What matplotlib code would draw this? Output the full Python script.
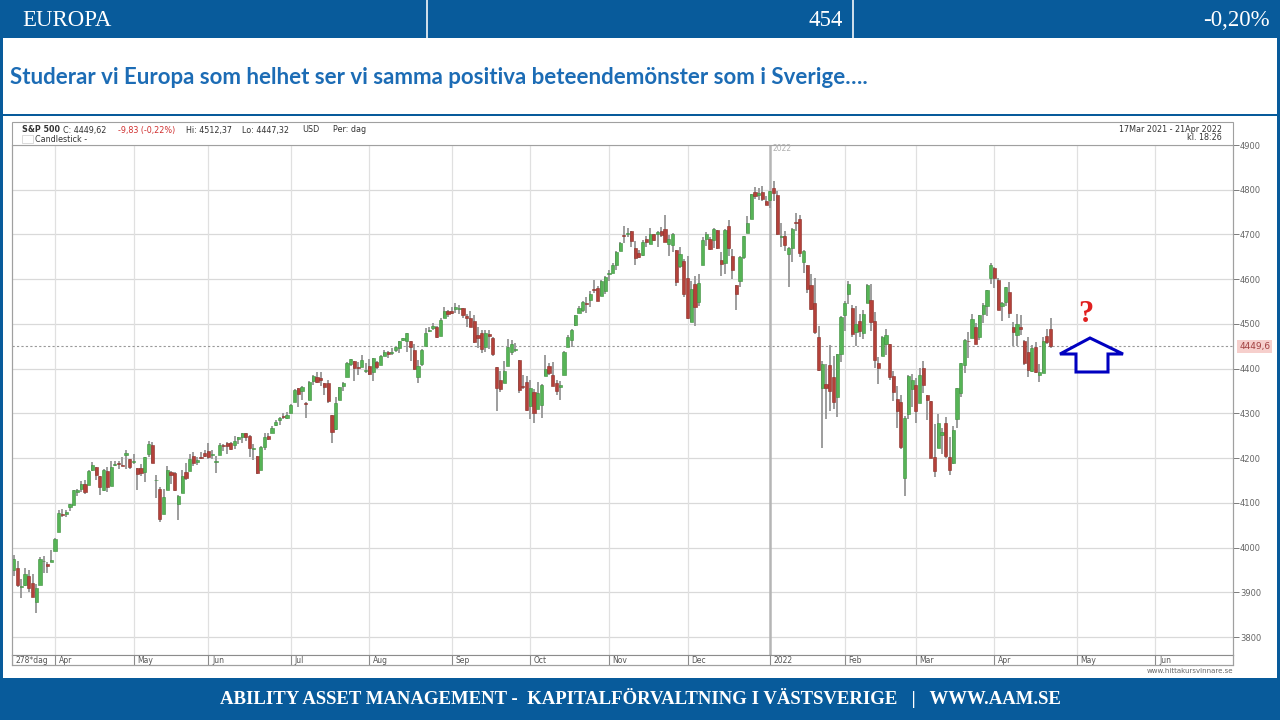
import numpy as np
import matplotlib
matplotlib.use("Agg")
import matplotlib.pyplot as plt
from matplotlib.patches import Rectangle, Polygon

# ---------------------------------------------------------------- data
# S&P 500 daily candles, 17 Mar 2021 - 21 Apr 2022 (278 trading days)
opens = [
    # Mar 2021
    3949.6, 3953.5, 3913.1, 3916.5, 3937.6, 3919.9, 3879.3, 3917.1, 3969.3, 3963.3, 3967.3,
    # Apr 2021
    3992.8, 4034.4, 4075.6, 4074.3, 4090.0, 4096.1, 4124.7, 4130.1, 4141.6, 4139.8, 4174.1,
    4179.8, 4159.2, 4128.4, 4170.5, 4138.8, 4185.0, 4188.3, 4185.1, 4206.1, 4198.1,
    # May 2021
    4192.0, 4179.0, 4177.1, 4169.1, 4210.3, 4228.3, 4150.3, 4130.6, 4075.0, 4129.6,
    4169.9, 4165.9, 4098.5, 4122.0, 4168.6, 4170.2, 4205.9, 4191.6, 4201.9, 4210.8,
    # Jun 2021
    4216.5, 4206.8, 4191.4, 4206.1, 4229.3, 4233.8, 4233.0, 4228.6, 4242.9, 4248.3, 4255.3,
    4248.9, 4220.4, 4204.8, 4173.4, 4224.6, 4249.3, 4257.0, 4274.5, 4284.9, 4293.2, 4290.7,
    # Jul 2021
    4300.7, 4326.6, 4356.5, 4351.0, 4321.1, 4329.4, 4372.4, 4381.1, 4380.1, 4369.0, 4367.4,
    4296.4, 4265.1, 4331.1, 4361.3, 4381.2, 4409.6, 4416.4, 4403.0, 4403.6, 4395.1,
    # Aug 2021
    4406.9, 4392.7, 4416.0, 4408.9, 4429.1, 4437.8, 4435.8, 4442.2, 4446.1, 4464.8, 4461.7,
    4462.1, 4440.9, 4382.4, 4410.6, 4450.3, 4484.4, 4490.5, 4493.8, 4474.1, 4513.8, 4529.8,
    # Sep 2021
    4528.8, 4534.5, 4532.4, 4535.4, 4518.1, 4513.0, 4506.9, 4474.8, 4479.3, 4447.5, 4477.1,
    4469.7, 4403.0, 4374.5, 4367.4, 4406.8, 4438.0, 4442.1, 4419.5, 4362.4, 4370.7,
    # Oct 2021
    4317.2, 4348.8, 4309.9, 4319.6, 4383.7, 4406.5, 4385.4, 4368.3, 4358.0, 4386.8, 4447.7,
    4463.7, 4497.3, 4524.4, 4532.2, 4546.1, 4553.7, 4578.7, 4580.2, 4562.8, 4572.9,
    # Nov 2021
    4610.6, 4613.3, 4630.7, 4662.9, 4699.3, 4701.5, 4707.3, 4670.3, 4659.4, 4655.2, 4689.3,
    4679.4, 4701.5, 4700.7, 4708.4, 4712.0, 4678.5, 4675.8, 4664.6, 4628.8, 4640.3,
    # Dec 2021
    4602.8, 4504.7, 4589.5, 4548.4, 4632.0, 4690.9, 4691.0, 4687.6, 4710.3, 4643.0, 4636.5,
    4719.1, 4652.5, 4587.9, 4595.0, 4650.4, 4704.0, 4734.0, 4795.5, 4788.6, 4794.2, 4775.2,
    # Jan 2022
    4778.1, 4804.5, 4788.0, 4693.4, 4697.7, 4655.3, 4669.1, 4728.6, 4733.6, 4638.0,
    4632.2, 4588.0, 4547.4, 4471.4, 4356.3, 4366.6, 4408.4, 4380.6, 4336.2, 4431.8,
    # Feb 2022
    4519.6, 4566.4, 4535.4, 4482.8, 4505.8, 4480.0, 4547.0, 4553.2, 4506.3, 4412.6,
    4429.3, 4455.8, 4456.1, 4384.6, 4332.7, 4324.9, 4155.8, 4298.4, 4354.2,
    # Mar 2022
    4363.1, 4322.6, 4401.3, 4342.1, 4327.0, 4202.7, 4223.1, 4252.6, 4279.5, 4202.8, 4188.8,
    4288.1, 4345.1, 4407.3, 4462.4, 4469.1, 4493.1, 4470.0, 4522.9, 4541.1, 4602.9, 4624.2,
    4599.0,
    # Apr 2022
    4540.3, 4548.0, 4572.5, 4494.2, 4474.7, 4494.2, 4462.6, 4437.6, 4394.3, 4449.1,
    4385.6, 4390.6, 4472.3, 4489.2,
]
highs = [
    3983.9, 3969.6, 3930.1, 3955.3, 3949.1, 3942.1, 3919.5, 3978.2, 3981.8, 3968.0, 3994.4,
    4020.6, 4083.4, 4086.2, 4083.1, 4098.2, 4129.5, 4131.8, 4148.0, 4151.7, 4173.5, 4191.3,
    4180.8, 4159.2, 4175.0, 4179.6, 4194.2, 4194.2, 4193.4, 4201.5, 4218.8, 4198.1,
    4209.4, 4179.0, 4187.7, 4202.7, 4238.0, 4236.4, 4162.0, 4134.7, 4131.6, 4183.1,
    4171.9, 4169.2, 4116.9, 4172.8, 4188.7, 4209.5, 4213.4, 4202.6, 4213.4, 4218.4,
    4234.1, 4217.4, 4204.4, 4233.5, 4232.3, 4236.7, 4237.1, 4249.7, 4248.4, 4255.6, 4257.2,
    4251.9, 4232.3, 4204.8, 4226.2, 4255.8, 4256.6, 4271.3, 4286.1, 4292.1, 4300.5, 4302.4,
    4320.7, 4355.4, 4356.5, 4361.9, 4324.8, 4372.9, 4386.7, 4392.4, 4393.7, 4369.0, 4375.1,
    4296.4, 4336.8, 4359.7, 4369.9, 4415.2, 4422.7, 4416.4, 4415.5, 4430.0, 4412.3,
    4422.2, 4423.8, 4416.2, 4429.8, 4440.8, 4439.4, 4445.2, 4449.4, 4461.8, 4468.4, 4480.3,
    4462.1, 4454.3, 4418.6, 4444.4, 4489.9, 4492.8, 4501.7, 4495.9, 4513.3, 4537.4, 4531.4,
    4537.1, 4545.9, 4541.5, 4535.4, 4521.8, 4529.9, 4520.5, 4493.0, 4485.7, 4486.9, 4485.9,
    4471.5, 4403.0, 4394.9, 4416.8, 4465.4, 4463.1, 4457.3, 4419.5, 4385.6, 4382.6,
    4375.2, 4355.5, 4369.2, 4365.6, 4430.0, 4412.0, 4415.9, 4374.9, 4372.9, 4439.7, 4475.8,
    4488.8, 4520.4, 4540.9, 4551.4, 4559.7, 4572.6, 4598.5, 4584.6, 4597.6, 4608.1,
    4620.3, 4635.2, 4663.5, 4683.0, 4718.5, 4714.9, 4708.5, 4684.9, 4664.6, 4688.5, 4697.4,
    4715.0, 4701.5, 4708.8, 4717.8, 4743.8, 4699.4, 4702.9, 4664.6, 4673.0, 4646.0,
    4652.9, 4595.5, 4608.0, 4612.6, 4694.0, 4705.1, 4695.3, 4713.6, 4710.3, 4660.5, 4712.6,
    4732.0, 4666.7, 4587.9, 4651.1, 4697.7, 4740.7, 4791.5, 4807.0, 4804.1, 4808.9, 4786.8,
    4796.6, 4818.6, 4797.7, 4725.0, 4708.0, 4673.0, 4714.1, 4748.8, 4744.1, 4665.1,
    4632.2, 4611.6, 4602.1, 4494.5, 4417.4, 4411.0, 4453.2, 4428.7, 4432.7, 4516.9,
    4550.5, 4595.3, 4542.9, 4539.7, 4521.9, 4531.3, 4590.0, 4588.9, 4526.3, 4426.2,
    4472.8, 4489.6, 4456.1, 4394.6, 4362.1, 4341.5, 4294.7, 4385.3, 4388.8,
    4378.5, 4401.5, 4416.8, 4342.1, 4327.0, 4276.9, 4299.4, 4268.3, 4291.0, 4247.6, 4271.1,
    4357.9, 4412.7, 4465.4, 4481.8, 4522.0, 4501.1, 4520.6, 4546.0, 4575.7, 4637.3, 4627.8,
    4603.1,
    4548.7, 4583.5, 4593.5, 4503.9, 4521.2, 4520.4, 4464.4, 4471.0, 4453.9, 4460.5,
    4410.3, 4471.0, 4488.3, 4512.4,
]
lows = [
    3935.7, 3910.9, 3886.8, 3914.2, 3901.6, 3889.1, 3853.5, 3917.1, 3943.3, 3944.4, 3967.0,
    3992.8, 4034.4, 4068.1, 4068.3, 4082.5, 4095.5, 4114.8, 4124.4, 4120.9, 4139.8, 4170.8,
    4150.5, 4118.4, 4126.4, 4123.7, 4138.8, 4182.4, 4176.2, 4181.8, 4176.8, 4174.9,
    4188.0, 4128.6, 4160.9, 4147.3, 4201.6, 4188.1, 4111.5, 4056.9, 4075.0, 4129.6,
    4142.7, 4126.0, 4061.4, 4122.0, 4151.7, 4170.2, 4182.5, 4184.1, 4197.8, 4203.6,
    4197.6, 4198.3, 4167.9, 4206.1, 4215.7, 4208.4, 4218.7, 4220.3, 4232.3, 4234.1, 4238.4,
    4202.5, 4196.1, 4164.4, 4173.4, 4217.3, 4241.4, 4257.0, 4271.2, 4274.7, 4287.0, 4288.0,
    4300.7, 4326.6, 4314.4, 4329.8, 4289.7, 4329.4, 4364.0, 4366.9, 4362.4, 4340.7, 4322.5,
    4233.1, 4262.1, 4331.1, 4350.1, 4381.2, 4405.5, 4372.5, 4387.0, 4403.6, 4389.7,
    4384.8, 4373.0, 4400.2, 4408.9, 4429.1, 4424.7, 4430.0, 4436.4, 4436.0, 4460.8, 4437.7,
    4417.8, 4397.6, 4367.7, 4406.8, 4450.3, 4482.3, 4485.7, 4469.0, 4474.1, 4513.8, 4515.8,
    4522.0, 4524.7, 4521.3, 4513.0, 4494.0, 4492.1, 4457.7, 4445.7, 4435.5, 4438.4, 4443.8,
    4427.8, 4305.9, 4348.0, 4367.4, 4406.8, 4430.3, 4436.2, 4346.3, 4355.1, 4306.2,
    4288.5, 4278.9, 4309.9, 4290.5, 4383.7, 4386.2, 4360.6, 4342.1, 4329.9, 4386.8, 4447.7,
    4447.5, 4496.4, 4524.4, 4526.9, 4524.0, 4537.4, 4569.2, 4551.7, 4562.8, 4567.6,
    4595.1, 4613.3, 4621.2, 4662.6, 4681.3, 4694.4, 4670.9, 4630.9, 4648.3, 4650.8, 4672.9,
    4679.4, 4684.4, 4672.8, 4694.2, 4682.2, 4652.7, 4659.9, 4585.4, 4625.3, 4560.0,
    4510.3, 4504.7, 4495.1, 4540.5, 4632.0, 4674.5, 4666.0, 4670.2, 4667.6, 4606.5, 4611.2,
    4651.9, 4600.2, 4531.1, 4583.2, 4645.5, 4704.0, 4734.0, 4780.0, 4778.1, 4775.3, 4765.8,
    4758.2, 4774.3, 4699.4, 4671.3, 4662.7, 4582.2, 4638.3, 4706.7, 4650.3, 4614.8,
    4568.7, 4530.2, 4478.0, 4395.3, 4222.6, 4287.1, 4304.8, 4309.5, 4292.5, 4414.0,
    4483.5, 4544.3, 4470.4, 4451.5, 4471.5, 4465.4, 4547.0, 4484.3, 4401.4, 4364.8,
    4429.3, 4429.7, 4373.8, 4327.2, 4267.1, 4221.5, 4114.7, 4286.8, 4315.1,
    4279.5, 4322.6, 4345.6, 4285.0, 4199.9, 4157.9, 4223.1, 4209.8, 4200.5, 4161.7, 4187.9,
    4267.9, 4335.7, 4390.6, 4424.3, 4469.1, 4455.8, 4465.2, 4501.1, 4517.7, 4589.7, 4581.3,
    4530.4,
    4507.6, 4539.2, 4514.2, 4450.0, 4450.3, 4474.6, 4408.4, 4381.3, 4392.7, 4390.8,
    4370.3, 4390.6, 4455.1, 4447.3,
]
closes = [
    3974.1, 3915.5, 3913.1, 3940.6, 3910.5, 3889.1, 3909.5, 3974.5, 3971.1, 3958.6, 3972.9,
    4019.9, 4077.9, 4073.9, 4080.0, 4097.2, 4128.8, 4128.0, 4141.6, 4124.7, 4170.4, 4185.5,
    4163.3, 4134.9, 4173.4, 4135.0, 4180.2, 4187.6, 4186.7, 4183.2, 4211.5, 4181.2,
    4192.7, 4164.7, 4167.6, 4201.6, 4232.6, 4188.4, 4152.1, 4063.0, 4112.5, 4173.9,
    4163.3, 4127.8, 4115.7, 4159.1, 4155.9, 4197.1, 4188.1, 4196.0, 4200.9, 4204.1,
    4202.0, 4208.1, 4192.9, 4229.9, 4226.5, 4227.3, 4219.6, 4239.2, 4247.4, 4255.2, 4246.6,
    4223.7, 4221.9, 4166.5, 4224.8, 4246.4, 4241.8, 4266.5, 4280.7, 4290.6, 4291.8, 4297.5,
    4319.9, 4352.3, 4343.5, 4358.1, 4320.8, 4369.6, 4384.6, 4369.2, 4374.3, 4360.0, 4327.2,
    4258.5, 4323.1, 4358.7, 4367.5, 4411.8, 4422.3, 4401.5, 4400.6, 4419.2, 4395.3,
    4387.2, 4423.2, 4402.7, 4429.1, 4436.5, 4432.4, 4436.8, 4447.7, 4460.8, 4468.0, 4479.7,
    4448.1, 4400.3, 4405.8, 4441.7, 4479.5, 4486.2, 4496.2, 4470.0, 4509.4, 4528.8, 4522.7,
    4524.1, 4537.0, 4535.4, 4520.0, 4514.1, 4493.3, 4458.6, 4468.7, 4443.1, 4480.7, 4473.8,
    4433.0, 4357.7, 4354.2, 4395.6, 4449.0, 4455.5, 4443.1, 4352.6, 4359.5, 4307.5,
    4357.0, 4300.5, 4345.7, 4363.6, 4399.8, 4391.3, 4361.2, 4350.7, 4363.8, 4438.3, 4471.4,
    4486.5, 4519.6, 4536.2, 4549.8, 4544.9, 4566.5, 4574.8, 4551.7, 4596.4, 4605.4,
    4613.7, 4630.7, 4660.6, 4680.1, 4697.5, 4701.7, 4685.3, 4646.7, 4649.3, 4682.9, 4682.8,
    4700.9, 4688.7, 4704.5, 4698.0, 4682.9, 4690.7, 4701.5, 4594.6, 4655.3, 4567.0,
    4513.0, 4577.1, 4538.4, 4591.7, 4686.8, 4701.2, 4667.5, 4712.0, 4669.0, 4634.1, 4709.9,
    4668.7, 4620.6, 4568.0, 4649.2, 4696.6, 4725.8, 4791.2, 4786.4, 4793.1, 4778.7, 4766.2,
    4796.6, 4793.5, 4700.6, 4696.1, 4677.0, 4670.3, 4713.1, 4726.4, 4659.0, 4662.9,
    4577.1, 4532.8, 4482.7, 4397.9, 4410.1, 4356.5, 4349.9, 4326.5, 4431.9, 4515.6,
    4546.5, 4589.4, 4477.4, 4500.5, 4483.9, 4521.5, 4587.2, 4504.1, 4418.6, 4401.7,
    4471.1, 4475.0, 4380.3, 4348.9, 4304.8, 4225.5, 4288.7, 4384.7, 4373.9,
    4306.3, 4386.5, 4363.5, 4328.9, 4201.1, 4170.7, 4277.9, 4259.5, 4204.3, 4173.1, 4262.5,
    4357.9, 4411.7, 4463.1, 4461.2, 4511.6, 4456.2, 4520.2, 4543.1, 4575.5, 4631.6, 4602.5,
    4530.4,
    4545.9, 4582.6, 4525.1, 4481.2, 4500.2, 4488.3, 4412.5, 4397.5, 4446.6, 4392.6,
    4391.7, 4462.2, 4459.5, 4449.6,
]

# month separators on the trading-day axis and their labels
month_pos = [-0.5, 11, 32, 52, 74, 95, 117, 138, 159, 180, 202, 222, 241, 262, 284, 305]
month_labels = ["278*dag", "Apr", "May", "Jun", "Jul", "Aug", "Sep", "Oct", "Nov",
                "Dec", "2022", "Feb", "Mar", "Apr", "May", "Jun"]
price_ticks = [3800, 3900, 4000, 4100, 4200, 4300, 4400, 4500, 4600, 4700, 4800, 4900]
last_price = 4449.62

# ---------------------------------------------------------------- layout helpers
W, H = 1280, 720
BLUE = "#085b9b"

fig = plt.figure(figsize=(W / 100, H / 100), dpi=100)
fig.patch.set_facecolor("white")


def fx(x):
    return x / W


def fy(y):
    return 1 - y / H


def box(x0, y0, x1, y1, zorder=1, **kw):
    fig.patches.append(Rectangle((fx(x0), fy(y1)), fx(x1) - fx(x0), fy(y0) - fy(y1),
                                 transform=fig.transFigure, zorder=zorder, **kw))


# slide frame: top bar, side borders, footer
box(0, 0, W, 38, facecolor=BLUE, edgecolor="none")
box(426, 0, 428, 38, facecolor="white", edgecolor="none", alpha=0.8)
box(852, 0, 854, 38, facecolor="white", edgecolor="none", alpha=0.8)
box(0, 38, 3, 720, facecolor=BLUE, edgecolor="none")
box(1277, 38, 1280, 720, facecolor=BLUE, edgecolor="none")
box(0, 114, W, 116, facecolor=BLUE, edgecolor="none")
box(0, 678, W, 720, facecolor=BLUE, edgecolor="none")

serif = "Liberation Serif"
fig.text(fx(22), fy(20), "EUROPA", color="white", fontsize=16.5, family=serif, va="center")
fig.text(fx(843), fy(20), "454", color="white", fontsize=16.5, family=serif, va="center", ha="right")
fig.text(fx(1270), fy(20), "-0,20%", color="white", fontsize=16.5, family=serif, va="center", ha="right")

fig.text(fx(10), fy(77),
         "Studerar vi Europa som helhet ser vi samma positiva beteendemönster som i Sverige\u2026.",
         color="#1c6cb5", fontsize=16, family="Lato", weight="bold", va="center")

fig.text(fx(640), fy(698),
         "ABILITY ASSET MANAGEMENT -  KAPITALFÖRVALTNING I VÄSTSVERIGE   |   WWW.AAM.SE",
         color="white", fontsize=13.5, family=serif, weight="bold", va="center", ha="center")

# ---------------------------------------------------------------- chart panel
box(12, 122, 1233, 665, facecolor="none", edgecolor="#a0a0a0", linewidth=0.8, zorder=5)

hdr = dict(fontsize=5.8, family="DejaVu Sans", va="center", color="#333333")
fig.text(fx(22), fy(130), "S&P 500", weight="bold", **hdr)
fig.text(fx(63), fy(130), "C: 4449,62", **hdr)
fig.text(fx(118), fy(130), "-9,83 (-0,22%)", **{**hdr, "color": "#d03030"})
fig.text(fx(186), fy(130), "Hi: 4512,37", **hdr)
fig.text(fx(242), fy(130), "Lo: 4447,32", **hdr)
fig.text(fx(302), fy(130), "USD", **hdr)
fig.text(fx(333), fy(130), "Per: dag", **hdr)
box(22, 135, 33, 143, facecolor="white", edgecolor="#cccccc", linewidth=0.5)
fig.text(fx(35), fy(139), "Candlestick -", **hdr)
fig.text(fx(1222), fy(129), "17Mar 2021 - 21Apr 2022", ha="right", **hdr)
fig.text(fx(1222), fy(138), "kl. 18:26", ha="right", **hdr)
fig.text(fx(1233), fy(671), "www.hittakursvinnare.se", ha="right", va="center",
         fontsize=5, color="#666666")

px_per_day = 3.743
x0_day = 13.8
ax = fig.add_axes([fx(12), fy(655), (1233 - 12) / W, (655 - 145) / H])
ax.set_xlim((12 - x0_day) / px_per_day, (1233 - x0_day) / px_per_day)
ax.set_ylim(3760, 4900)
ax.set_facecolor("white")

# grid
for p in price_ticks:
    ax.axhline(p, color="#d9d9d9", lw=0.9, zorder=0)
for pos, lab in zip(month_pos[1:], month_labels[1:]):
    if lab == "2022":
        ax.axvline(pos, color="#b5b5b5", lw=1.8, zorder=0)
    else:
        ax.axvline(pos, color="#e0e0e0", lw=0.9, zorder=0)
ax.text(202 + 0.8, 4893, "2022", color="#b0b0b0", fontsize=5.5, va="center", ha="left")

# candles
o = np.array(opens)
h = np.array(highs)
l = np.array(lows)
c = np.array(closes)
idx = np.arange(len(c))
up = c >= o
face = np.where(up, "#56b456", "#b4413a")
edge = np.where(up, "#3c8c3c", "#872d27")
ax.vlines(idx, l, h, color="#959595", lw=1.3, zorder=2)
ax.bar(idx, np.maximum(np.abs(c - o), 1.8), bottom=np.minimum(o, c), width=0.85,
       color=face, edgecolor=edge, linewidth=0.4, zorder=3)

# last price line and tag
ax.axhline(last_price, color="#999999", lw=0.8, ls=(0, (2, 2)), zorder=1)
ax.text(1.005, last_price, "4449,6", transform=ax.get_yaxis_transform(), fontsize=6.5,
        color="#a04040", va="center", ha="left",
        bbox=dict(boxstyle="square,pad=0.25", facecolor="#f6cfcc", edgecolor="none"))

# right price axis
ax.yaxis.tick_right()
ax.set_yticks(price_ticks)
ax.set_yticklabels([str(p) for p in price_ticks])
ax.tick_params(axis="y", direction="out", length=4, width=0.6, colors="#666666",
               labelsize=6, pad=1)
ax.set_xticks([])
for s in ax.spines.values():
    s.set_color("#a0a0a0")
    s.set_linewidth(0.8)

# month band under the plot
axm = fig.add_axes([fx(12), fy(665), (1233 - 12) / W, 10 / H], sharex=ax)
axm.set_ylim(0, 1)
axm.set_yticks([])
axm.tick_params(axis="x", bottom=False, labelbottom=False)
for s in axm.spines.values():
    s.set_color("#8c8c8c")
    s.set_linewidth(0.8)
for pos, lab in zip(month_pos, month_labels):
    axm.axvline(pos, color="#8c8c8c", lw=0.8)
    axm.text(pos + 1.0, 0.45, lab, fontsize=5.5, color="#555555", va="center", ha="left")

# annotation: question mark and outlined up arrow
fig.text(fx(1086), fy(315), "?", color="#e02020", fontsize=22, family=serif,
         weight="bold", ha="center", va="center", zorder=10)
arrow_pts = [(1090, 338), (1123, 354), (1108, 354), (1108, 372),
             (1076, 372), (1076, 354), (1060, 354)]
fig.patches.append(Polygon([(fx(x), fy(y)) for x, y in arrow_pts], closed=True,
                           transform=fig.transFigure, facecolor="white",
                           edgecolor="#0000c0", linewidth=2.2, zorder=10))

fig.savefig("out.png", dpi=100)
